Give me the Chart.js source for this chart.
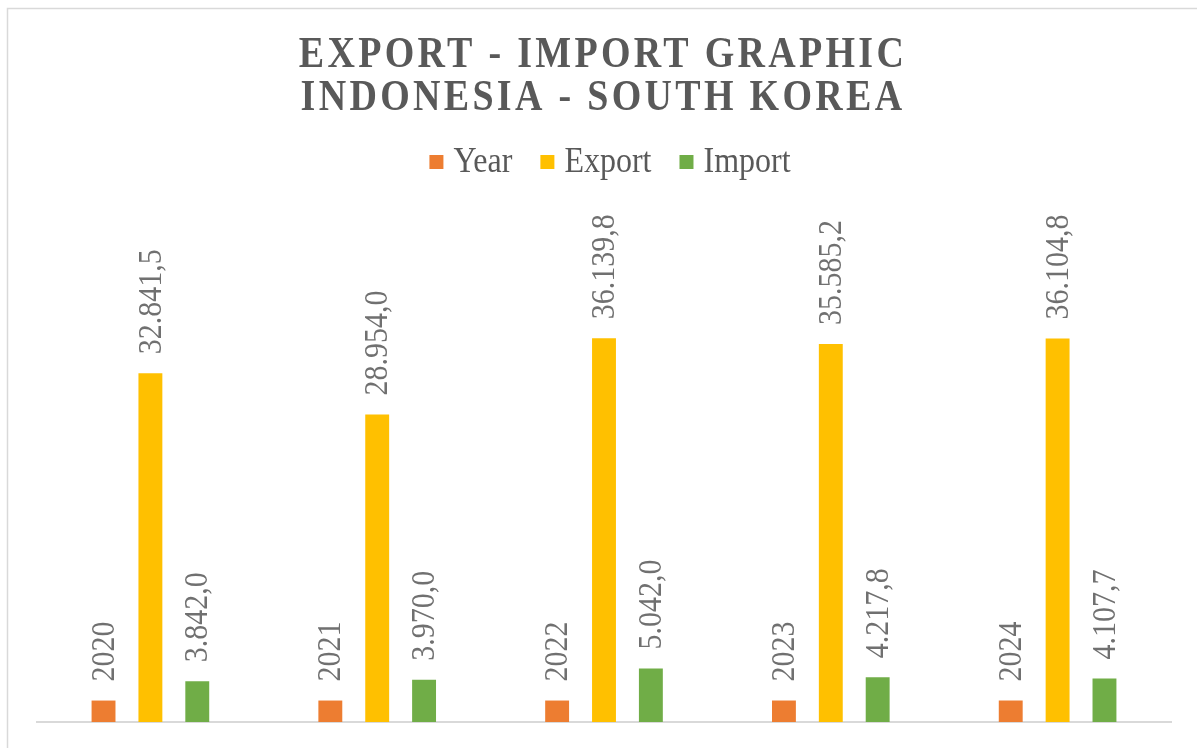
<!DOCTYPE html>
<html>
<head>
<meta charset="utf-8">
<script src="https://cdn.jsdelivr.net/npm/chart.js@4"></script>
<style>
  html, body { margin: 0; padding: 0; background: #fff; }
  canvas { display: block; }
</style>
</head>
<body>
<canvas id="tradeChart" width="1197" height="748"></canvas>
<script>
// data
const categories = ["2020", "2021", "2022", "2023", "2024"];
const yearValues = [2020, 2021, 2022, 2023, 2024];
const exportValues = [32841.5, 28954.0, 36139.8, 35585.2, 36104.8];
const importValues = [3842.0, 3970.0, 5042.0, 4217.8, 4107.7];
const seriesNames = ["Year", "Export", "Import"];
const seriesColors = ["#ED7D31", "#FFC000", "#70AD47"];
const titleLines = ["EXPORT - IMPORT GRAPHIC", "INDONESIA - SOUTH KOREA"];

// indonesian number style: 32.841,5
function fmt(v, isYear) {
  if (isYear) return String(v);
  const parts = v.toFixed(1).split(".");
  const intPart = parts[0].replace(/\B(?=(\d{3})+(?!\d))/g, ".");
  return intPart + "," + parts[1];
}

// excel text looks a bit taller than the canvas font, stretch it a little
const STRETCH = 1.14;

const frame = {
  id: "frame",
  beforeDraw(chart) {
    const c = chart.ctx;
    c.save();
    c.strokeStyle = "#D9D9D9";
    c.lineWidth = 1.5;
    c.strokeRect(7.5, 8.5, 1220, 780);
    c.restore();
  }
};

const titleDraw = {
  id: "titleDraw",
  afterDraw(chart) {
    const c = chart.ctx;
    c.save();
    c.font = "bold 38px 'Liberation Serif'";
    c.fillStyle = "#595959";
    c.textAlign = "center";
    c.textBaseline = "alphabetic";
    c.letterSpacing = "3.3px";
    [67, 110].forEach((base, i) => {
      c.save();
      c.translate(603, base);
      c.scale(1, STRETCH);
      c.fillText(titleLines[i], 0, 0);
      c.restore();
    });
    c.restore();
  }
};

// legend drawn by hand so the text can get the same stretch
const legendDraw = {
  id: "legendDraw",
  afterDraw(chart) {
    const c = chart.ctx;
    c.save();
    c.font = "32px 'Liberation Serif'";
    c.textBaseline = "alphabetic";
    c.textAlign = "left";
    const box = 14, gapText = 10, gapItem = 28;
    const widths = chart.data.datasets.map(ds => c.measureText(ds.label).width);
    let total = 0;
    widths.forEach((w, i) => { total += box + gapText + w + (i ? gapItem : 0); });
    let x = 610 - total / 2;
    chart.data.datasets.forEach((ds, i) => {
      c.fillStyle = ds.backgroundColor;
      c.fillRect(x, 155, box, box);
      c.save();
      c.translate(x + box + gapText, 172);
      c.scale(1, STRETCH);
      c.fillStyle = "#595959";
      c.fillText(ds.label, 0, 0);
      c.restore();
      x += box + gapText + widths[i] + gapItem;
    });
    c.restore();
  }
};

const barLabels = {
  id: "barLabels",
  afterDatasetsDraw(chart) {
    const c = chart.ctx;
    c.save();
    c.font = "30px 'Liberation Serif'";
    c.fillStyle = "#707070";
    c.textAlign = "left";
    c.textBaseline = "middle";
    chart.data.datasets.forEach((ds, i) => {
      const meta = chart.getDatasetMeta(i);
      meta.data.forEach((bar, j) => {
        c.save();
        c.translate(bar.x, bar.y - 19);
        c.rotate(-Math.PI / 2);
        c.scale(1, STRETCH);
        c.fillText(fmt(ds.data[j], i === 0), 0, 1);
        c.restore();
      });
    });
    c.restore();
  }
};

const ctx = document.getElementById("tradeChart").getContext("2d");

const tradeChart = new Chart(ctx, {
  type: "bar",
  data: {
    labels: categories,
    datasets: [
      { label: seriesNames[0], data: yearValues, backgroundColor: seriesColors[0] },
      { label: seriesNames[1], data: exportValues, backgroundColor: seriesColors[1] },
      { label: seriesNames[2], data: importValues, backgroundColor: seriesColors[2] }
    ]
  },
  options: {
    responsive: false,
    animation: false,
    categoryPercentage: 0.62,
    barPercentage: 0.51,
    layout: {
      padding: { top: 191, left: 37, right: 26, bottom: 26 }
    },
    plugins: {
      title: { display: false },
      tooltip: { enabled: false },
      legend: { display: false }
    },
    scales: {
      x: {
        display: true,
        grid: { display: true, drawOnChartArea: false, drawTicks: false },
        border: { display: true, color: "#D9D9D9", width: 2 },
        ticks: { display: false }
      },
      y: {
        display: false,
        min: 0,
        max: 50000
      }
    }
  },
  plugins: [frame, barLabels, titleDraw, legendDraw]
});
</script>
</body>
</html>
